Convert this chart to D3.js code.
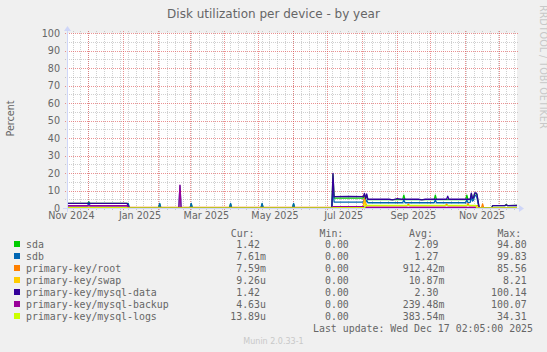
<!DOCTYPE html>
<html><head><meta charset="utf-8">
<script src="https://cdn.jsdelivr.net/npm/d3@7"></script>
<style>html,body{margin:0;padding:0;background:#F0F0F0}svg{display:block}</style>
</head><body>
<svg id="chart" width="547" height="352"></svg>
<script>
// ---------- data ----------
const title = "Disk utilization per device - by year";
const yLabel = "Percent";
const yTicks = [0, 10, 20, 30, 40, 50, 60, 70, 80, 90, 100];
const xLabelMonths = ["2024-11-01", "2025-01-01", "2025-03-01", "2025-05-01", "2025-07-01", "2025-09-01", "2025-11-01"];
const lastUpdate = "Last update: Wed Dec 17 02:05:00 2025";
const watermark = "Munin 2.0.33-1";
const endTime = "2025-12-17T02:05:00Z";
const rangeDays = 400;

const seriesNames = ["sda", "sdb", "primary-key/root", "primary-key/swap", "primary-key/mysql-data", "primary-key/mysql-backup", "primary-key/mysql-logs"];
const seriesColors = ["#00CC00", "#0066B3", "#FF8000", "#FFCC00", "#330099", "#990099", "#CCFF00"];
const curValues = ["1.42", "7.61m", "7.59m", "9.26u", "1.42", "4.63u", "13.89u"];
const minValues = ["0.00", "0.00", "0.00", "0.00", "0.00", "0.00", "0.00"];
const avgValues = ["2.09", "1.27", "912.42m", "10.87m", "2.30", "239.48m", "383.54m"];
const maxValues = ["94.80", "99.83", "85.56", "8.21", "100.14", "100.07", "34.31"];

const sda = [
  ["2024-11-11",2.7],["2024-11-30",2.7],["2024-12-01",3.4],["2024-12-02",2.7],
  ["2025-01-04",2.7],["2025-01-05",2.4],["2025-01-06",0],
  ["2025-02-01",0],["2025-02-02",2.4],["2025-02-03",0],
  ["2025-03-01",0],["2025-03-02",2.4],["2025-03-03",0],
  ["2025-04-05",0],["2025-04-06",2.4],["2025-04-07",0],
  ["2025-05-03",0],["2025-05-04",2.4],["2025-05-05",0],
  ["2025-05-31",0],["2025-06-01",2.4],["2025-06-02",0],
  ["2025-07-05",0],["2025-07-06",19.0],["2025-07-07",5.7],
  ["2025-08-02",5.7],["2025-08-03",7.8],["2025-08-04",5.2],["2025-08-05",7.2],["2025-08-06",4.8],
  ["2025-09-06",4.8],["2025-09-07",7.3],["2025-09-08",4.8],
  ["2025-10-04",4.8],["2025-10-05",7.3],["2025-10-06",4.8],
  ["2025-11-01",4.8],["2025-11-02",7.3],["2025-11-03",4.8],
  ["2025-11-05",4.8],["2025-11-06",8.0],["2025-11-07",5.2],["2025-11-08",5.8],["2025-11-09",8.3],["2025-11-10",8.3],["2025-11-11",7.5],["2025-11-12",3.5],["2025-11-13",0],
  ["2025-11-24",0],["2025-11-25",1.4],["2025-12-06",1.4],["2025-12-07",2.0],["2025-12-08",1.4],["2025-12-17",1.42]
];
const sdb = [
  ["2024-11-11",1.3],["2024-11-30",1.3],["2024-12-01",3.3],["2024-12-02",1.3],
  ["2025-01-04",1.3],["2025-01-05",2.6],["2025-01-06",0],
  ["2025-02-01",0],["2025-02-02",2.6],["2025-02-03",0],
  ["2025-02-19",0],["2025-02-20",12.8],["2025-02-21",0],
  ["2025-03-01",0],["2025-03-02",2.6],["2025-03-03",0],
  ["2025-04-05",0],["2025-04-06",2.6],["2025-04-07",0],
  ["2025-05-03",0],["2025-05-04",2.6],["2025-05-05",0],
  ["2025-05-31",0],["2025-06-01",2.6],["2025-06-02",0],
  ["2025-07-05",0],["2025-07-06",12.0],["2025-07-07",3.4],
  ["2025-08-02",3.4],["2025-08-03",5.0],["2025-08-04",3.2],["2025-08-05",4.6],["2025-08-06",3.0],
  ["2025-09-06",3.0],["2025-09-07",4.8],["2025-09-08",3.0],
  ["2025-10-04",3.0],["2025-10-05",4.8],["2025-10-06",3.0],
  ["2025-11-01",3.0],["2025-11-02",4.8],["2025-11-03",3.0],
  ["2025-11-05",3.2],["2025-11-06",6.5],["2025-11-07",4.0],["2025-11-08",4.5],["2025-11-09",7.4],["2025-11-10",7.0],["2025-11-11",6.0],["2025-11-12",2.5],["2025-11-13",0],
  ["2025-12-17",0]
];
const root = [
  ["2024-11-11",0.3],["2025-07-05",0.3],["2025-07-06",0.6],["2025-07-07",0.3],
  ["2025-08-02",0.3],["2025-08-03",5.7],["2025-08-04",2.9],["2025-08-05",1.3],
  ["2025-09-10",1.3],["2025-09-11",2.2],["2025-09-12",1.3],
  ["2025-10-14",1.3],["2025-10-15",2.2],["2025-10-16",1.3],
  ["2025-11-02",1.3],["2025-11-03",2.5],["2025-11-04",1.3],
  ["2025-11-12",1.3],["2025-11-13",0],["2025-11-15",0],["2025-11-16",2.3],["2025-11-17",0],["2025-12-17",0]
];
const swap = [
  ["2024-11-11",0],["2025-08-02",0],["2025-08-03",4.5],["2025-08-04",2.0],["2025-08-05",0],["2025-12-17",0]
];
const mysqlData = [
  ["2024-11-11",2.7],["2025-01-04",2.7],["2025-01-05",1.0],["2025-01-06",0],
  ["2025-07-05",0],["2025-07-06",19.8],["2025-07-07",6.5],["2025-07-20",6.7],["2025-08-02",6.5],
  ["2025-08-03",8.4],["2025-08-04",5.4],["2025-08-05",8.0],["2025-08-06",5.0],
  ["2025-08-25",5.0],["2025-08-28",4.7],["2025-09-01",5.3],["2025-09-05",5.0],
  ["2025-09-20",5.0],["2025-09-23",4.7],["2025-09-26",5.0],
  ["2025-10-15",5.0],["2025-10-16",6.8],["2025-10-17",5.0],
  ["2025-11-05",5.0],["2025-11-06",8.5],["2025-11-07",5.5],["2025-11-08",6.0],["2025-11-09",8.7],["2025-11-10",8.7],["2025-11-11",8.0],["2025-11-12",4.0],["2025-11-13",0],
  ["2025-11-24",0],["2025-11-25",1.4],["2025-12-06",1.4],["2025-12-07",1.9],["2025-12-08",1.4],["2025-12-17",1.42]
];
const mysqlBackup = [
  ["2024-11-11",1.3],["2025-01-04",1.3],["2025-01-05",0.5],["2025-01-06",0],
  ["2025-02-19",0],["2025-02-20",13.1],["2025-02-21",0],
  ["2025-07-05",0],["2025-07-06",0.8],["2025-08-02",0.8],["2025-08-03",0.3],
  ["2025-11-10",0.3],["2025-11-11",0],["2025-12-17",0]
];
const mysqlLogs = [
  ["2024-11-11",0],["2025-08-03",0],["2025-08-04",1.5],["2025-11-10",1.5],["2025-11-11",0],["2025-12-17",0]
];
const seriesData = [sda, sdb, root, swap, mysqlData, mysqlBackup, mysqlLogs];

// ---------- layout ----------
const X0 = 67, X1 = 517, Y0 = 208, Y1 = 33;
const FONT = "#666666", AXIS = "#CFD6F8";
const SANS = "'DejaVu Sans', sans-serif", MONO = "'DejaVu Sans Mono', monospace";

const svg = d3.select("#chart");
const end = new Date(endTime);
const start = new Date(end.getTime() - rangeDays * 86400000);
const x = d3.scaleTime().domain([start, end]).range([X0, X1]);
const y = d3.scaleLinear().domain([0, 100]).range([Y0, Y1]);
const noon = s => new Date(Date.parse(s) + 12 * 3600000);

// canvas
svg.append("rect").attr("x", X0).attr("y", Y1).attr("width", X1 - X0).attr("height", Y0 - Y1).attr("fill", "#FFFFFF");

const grid = svg.append("g").attr("shape-rendering", "crispEdges");
const minorCol = "rgba(143,143,143,0.42)", majorCol = "rgba(222,79,79,0.62)";
const hMinor = d3.range(0, 101, 5).filter(v => !yTicks.includes(v));
grid.selectAll(".hm").data(hMinor).join("line")
  .attr("x1", X0 - 2).attr("x2", X1 + 2).attr("y1", d => Math.round(y(d)) + 0.5).attr("y2", d => Math.round(y(d)) + 0.5)
  .attr("stroke", minorCol).attr("stroke-dasharray", "1,1");
const weeks = d3.utcSunday.range(start, end);
grid.selectAll(".vm").data(weeks).join("line")
  .attr("x1", d => Math.round(x(d)) + 0.5).attr("x2", d => Math.round(x(d)) + 0.5).attr("y1", Y0 + 2).attr("y2", Y1 - 2)
  .attr("stroke", minorCol).attr("stroke-dasharray", "1,1");
grid.selectAll(".hM").data(yTicks.filter(v => v > 0)).join("line")
  .attr("x1", X0 - 2).attr("x2", X1 + 2).attr("y1", d => Math.round(y(d)) + 0.5).attr("y2", d => Math.round(y(d)) + 0.5)
  .attr("stroke", majorCol).attr("stroke-dasharray", "1,1");
const months = d3.utcMonth.range(start, end);
grid.selectAll(".vM").data(months).join("line")
  .attr("x1", d => Math.round(x(d)) + 0.5).attr("x2", d => Math.round(x(d)) + 0.5).attr("y1", Y0 + 2).attr("y2", Y1 - 2)
  .attr("stroke", majorCol).attr("stroke-dasharray", "1,1");

// y labels
svg.append("g").selectAll("text").data(yTicks).join("text")
  .attr("x", 60).attr("y", d => y(d) + 3.5).attr("text-anchor", "end")
  .attr("font-family", SANS).attr("font-size", "9.6px").attr("fill", FONT).text(d => d);

// x labels (centered half a month after the month start)
const fmt = d3.utcFormat("%b %Y");
svg.append("g").selectAll("text").data(xLabelMonths).join("text")
  .attr("x", d => x(new Date(Date.parse(d) + 15 * 86400000))).attr("y", 219).attr("text-anchor", "middle")
  .attr("font-family", SANS).attr("font-size", "9.6px").attr("fill", FONT).text(d => fmt(new Date(d)));

// series lines
const clip = svg.append("clipPath").attr("id", "plotclip");
clip.append("rect").attr("x", X0).attr("y", Y1 - 1).attr("width", X1 - X0).attr("height", Y0 - Y1 + 2);
const line = d3.line().x(d => x(noon(d[0]))).y(d => y(d[1]));
svg.append("g").attr("clip-path", "url(#plotclip)").selectAll("path").data(seriesData).join("path")
  .attr("d", d => line(d)).attr("fill", "none").attr("stroke", (d, i) => seriesColors[i]).attr("stroke-width", 1.3)
  .attr("stroke-linejoin", "round");

// axes + arrows
svg.append("line").attr("x1", X0 - 4).attr("x2", X1 + 4).attr("y1", Y0 + 0.5).attr("y2", Y0 + 0.5).attr("stroke", AXIS);
svg.append("line").attr("x1", X0 + 0.5).attr("x2", X0 + 0.5).attr("y1", Y0 + 4).attr("y2", Y1 - 4).attr("stroke", AXIS);
svg.append("path").attr("d", `M${X1 + 2},${Y0 - 3}L${X1 + 2},${Y0 + 4}L${X1 + 7},${Y0 + 0.5}Z`).attr("fill", AXIS);
svg.append("path").attr("d", `M${X0 - 3},${Y1 - 2}L${X0 + 4},${Y1 - 2}L${X0 + 0.5},${Y1 - 7}Z`).attr("fill", AXIS);

// title
svg.append("text").attr("x", 273.5).attr("y", 17.5).attr("text-anchor", "middle")
  .attr("font-family", SANS).attr("font-size", "12px").attr("fill", FONT).text(title);
// y axis title
svg.append("text").attr("transform", "translate(13.5,118.5) rotate(-90)").attr("text-anchor", "middle")
  .attr("font-family", SANS).attr("font-size", "9.6px").attr("fill", FONT).text(yLabel);
// rrdtool vertical text
svg.append("text").attr("transform", "translate(539.5,5) rotate(90)").attr("text-anchor", "start")
  .attr("font-family", SANS).attr("font-size", "9.6px").attr("fill", "#C8C8C8").text("RRDTOOL / TOBI OETIKER");

// legend
const LF = "9.9px";
const colEnds = [260, 348.8, 438.4, 526.7];
const headers = ["Cur:", "Min:", "Avg:", "Max:"];
const cw = 5.96;
const leg = svg.append("g").attr("font-family", MONO).attr("font-size", LF).attr("fill", FONT);
headers.forEach((h, c) => {
  leg.append("text").attr("x", colEnds[c] - 5 * cw + 0.5).attr("y", 236.5).text(h);
});
const cols = [curValues, minValues, avgValues, maxValues];
seriesNames.forEach((name, i) => {
  const by = 248 + i * 12;
  leg.append("rect").attr("x", 14).attr("y", by - 7).attr("width", 6).attr("height", 6).attr("fill", seriesColors[i]);
  leg.append("text").attr("x", 26).attr("y", by).text(name);
  cols.forEach((vals, c) => {
    const v = vals[i];
    const m = v.match(/^([0-9.]+)([a-zA-Z]?)$/);
    leg.append("text").attr("x", colEnds[c]).attr("y", by).attr("text-anchor", "end").text(m[1]);
    if (m[2]) leg.append("text").attr("x", colEnds[c]).attr("y", by).text(m[2]);
  });
});
leg.append("text").attr("x", 533).attr("y", 331.5).attr("text-anchor", "end").text(lastUpdate);
svg.append("text").attr("x", 273.5).attr("y", 344).attr("text-anchor", "middle")
  .attr("font-family", SANS).attr("font-size", "8px").attr("fill", "#C8C8C8").text(watermark);
</script>
</body></html>
